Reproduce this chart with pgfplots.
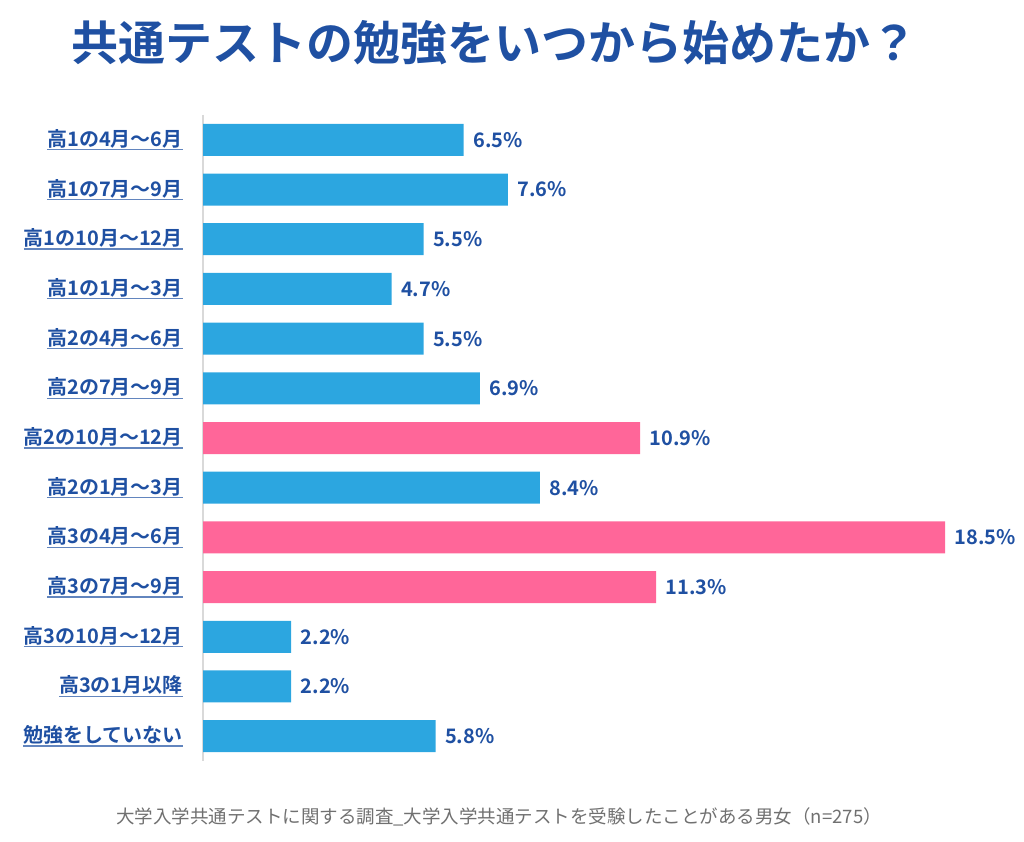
\documentclass[border=0pt]{standalone}
\usepackage{fontspec}
\setmainfont{Noto Sans CJK JP}[BoldFont={Noto Sans CJK JP Bold}]
\usepackage{pgfplots}
\pgfplotsset{compat=1.18}

\definecolor{barblue}{HTML}{2CA6E0}
\definecolor{barpink}{HTML}{FF6699}
\definecolor{txtblue}{HTML}{1F50A2}
\definecolor{footgray}{HTML}{707070}

\newcommand\ul[1]{\setbox0\hbox{#1}\rlap{\color{txtblue!70}\rule[-4pt]{\wd0}{1.3pt}}\box0}

\begin{document}
\begin{tikzpicture}
\path[use as bounding box] (0,0) rectangle (1024pt,842pt);

\node[font=\bfseries\fontsize{47}{50}\selectfont, text=txtblue] at (494pt,799pt) {共通テストの勉強をいつから始めたか？};

\begin{axis}[
    at={(203pt,81pt)}, anchor=south west,
    scale only axis,
    width=742pt, height=646pt,
    xbar, bar width=32pt, bar shift=0pt,
    xmin=0, xmax=18.5,
    ymin=-0.5, ymax=12.5,
    y dir=reverse,
    xtick=\empty,
    ytick={0,1,...,12},
    yticklabels={\ul{高1の4月～6月}, \ul{高1の7月～9月}, \ul{高1の10月～12月}, \ul{高1の1月～3月},
        \ul{高2の4月～6月}, \ul{高2の7月～9月}, \ul{高2の10月～12月}, \ul{高2の1月～3月},
        \ul{高3の4月～6月}, \ul{高3の7月～9月}, \ul{高3の10月～12月}, \ul{高3の1月以降},
        \ul{勉強をしていない}},
    major tick length=0pt,
    yticklabel style={font=\bfseries\fontsize{20}{22}\selectfont, text=txtblue, inner sep=0pt, xshift=-20pt},
    separate axis lines,
    x axis line style={draw=none},
    y axis line style={draw=black!15, line width=2pt},
    axis x line*=bottom, axis y line*=left,
    clip=false,
    nodes near coords={\pgfmathprintnumber[assume math mode=true,fixed,fixed zerofill,precision=1]{\pgfplotspointmeta}\%},
    nodes near coords style={font=\bfseries\fontsize{20}{22}\selectfont, text=txtblue, anchor=west, xshift=6pt},
]
\addplot[fill=barblue, draw=none] coordinates {
    (6.5,0) (7.6,1) (5.5,2) (4.7,3) (5.5,4) (6.9,5) (8.4,7) (2.2,10) (2.2,11) (5.8,12)
};
\addplot[fill=barpink, draw=none] coordinates {
    (10.9,6) (18.5,8) (11.3,9)
};
\end{axis}

\node[font=\fontsize{18.5}{20}\selectfont, text=footgray] at (499pt,25pt) {大学入学共通テストに関する調査\_大学入学共通テストを受験したことがある男女（n=275）};
\end{tikzpicture}
\end{document}
